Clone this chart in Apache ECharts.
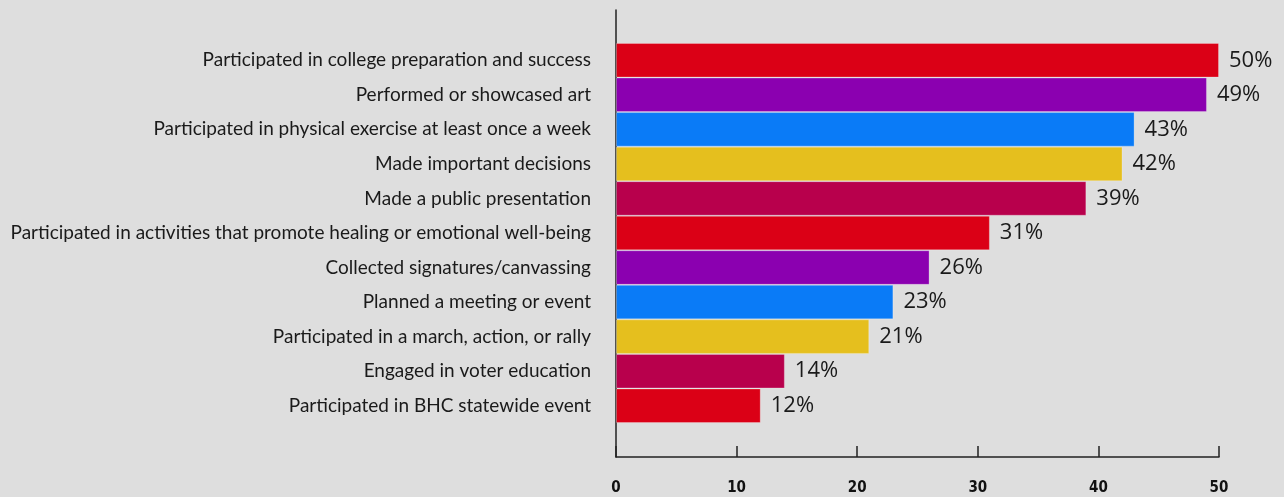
<!DOCTYPE html>
<html>
<head>
<meta charset="utf-8">
<script src="https://cdn.jsdelivr.net/npm/echarts@6/dist/echarts.min.js"></script>
<style>
  html, body { margin: 0; padding: 0; background: #dedede; }
  #chart { width: 1284px; height: 497px; }
</style>
</head>
<body>
<div id="chart"></div>
<script>
// Activities, listed top to bottom
const categories = [
  "Participated in college preparation and success",
  "Performed or showcased art",
  "Participated in physical exercise at least once a week",
  "Made important decisions",
  "Made a public presentation",
  "Participated in activities that promote healing or emotional well-being",
  "Collected signatures/canvassing",
  "Planned a meeting or event",
  "Participated in a march, action, or rally",
  "Engaged in voter education",
  "Participated in BHC statewide event"
];
// Share of participants (%)
const values = [50, 49, 43, 42, 39, 31, 26, 23, 21, 14, 12];
// Repeating bar palette
const palette = ["#db0016", "#8b00b0", "#0a7bf7", "#e5bf1e", "#b8004c"];
const xTicks = [0, 10, 20, 30, 40, 50];

const chart = echarts.init(document.getElementById('chart'));

const barData = values.map((v, i) => ({
  value: v,
  itemStyle: { color: palette[i % palette.length] }
}));

chart.setOption({
  backgroundColor: '#dedede',
  animation: false,
  grid: [
    { left: 616, right: 65, top: 43, bottom: 74 },
    { left: 616, right: 65, top: 10, bottom: 40 }
  ],
  xAxis: [
    { gridIndex: 0, type: 'value', min: xTicks[0], max: xTicks[xTicks.length - 1], interval: 10,
      show: false },
    { gridIndex: 1, type: 'value', min: xTicks[0], max: xTicks[xTicks.length - 1], interval: 10,
      axisLine: { show: true, lineStyle: { color: '#222', width: 1.5 } },
      axisTick: { show: true, inside: true, length: 11, lineStyle: { color: '#222', width: 1.5 } },
      splitLine: { show: false },
      axisLabel: { margin: 24, color: '#111', fontFamily: 'DejaVu Sans Condensed', fontWeight: 'bold', fontSize: 15 } }
  ],
  yAxis: [
    { gridIndex: 0, type: 'category', data: categories, inverse: true,
      axisLine: { show: false }, axisTick: { show: false },
      axisLabel: { margin: 25, color: '#1a1a1a', fontFamily: 'Lato', fontSize: 19 } },
    { gridIndex: 1, type: 'value', min: 0, max: 1,
      axisLine: { show: true, lineStyle: { color: '#222', width: 1.5 } },
      axisTick: { show: false }, axisLabel: { show: false }, splitLine: { show: false } }
  ],
  series: [{
    type: 'bar',
    xAxisIndex: 0,
    yAxisIndex: 0,
    data: barData,
    barCategoryGap: 0,
    barWidth: '100%',
    itemStyle: { borderColor: 'rgba(255,255,255,0.25)', borderWidth: 1 },
    label: {
      show: true,
      position: 'right',
      distance: 10,
      color: '#1a1a1a',
      fontFamily: 'Open Sans',
      fontSize: 22,
      formatter: p => p.value + '%'
    }
  }]
});
</script>
</body>
</html>
